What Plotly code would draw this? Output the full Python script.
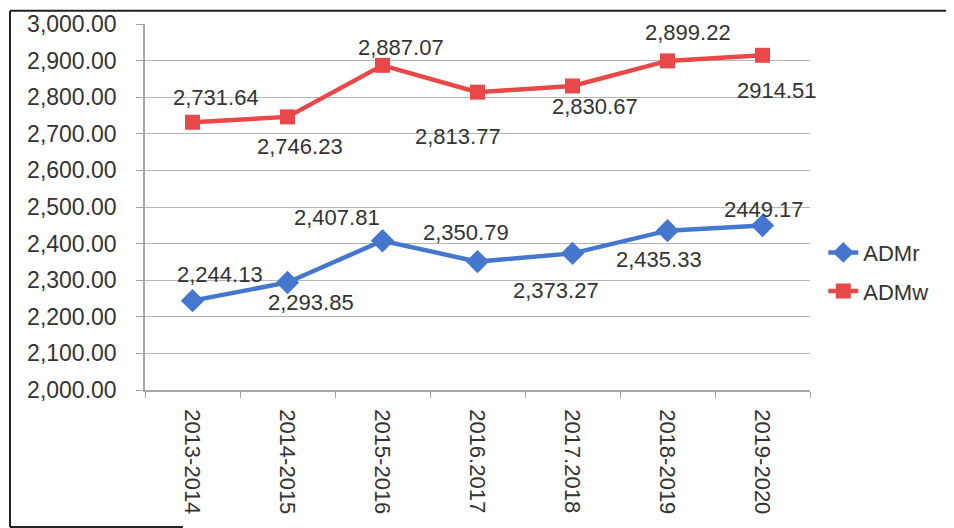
import plotly.graph_objects as go

categories = ["2013-2014", "2014-2015", "2015-2016", "2016.2017", "2017.2018", "2018-2019", "2019-2020"]
admr_values = [2244.13, 2293.85, 2407.81, 2350.79, 2373.27, 2435.33, 2449.17]
admw_values = [2731.64, 2746.23, 2887.07, 2813.77, 2830.67, 2899.22, 2914.51]
admr_labels = ["2,244.13", "2,293.85", "2,407.81", "2,350.79", "2,373.27", "2,435.33", "2449.17"]
admw_labels = ["2,731.64", "2,746.23", "2,887.07", "2,813.77", "2,830.67", "2,899.22", "2914.51"]
y_ticks = [2000, 2100, 2200, 2300, 2400, 2500, 2600, 2700, 2800, 2900, 3000]

# label offsets (style only, px)
admr_shift = [(27, 26), (23, -20), (-46, 23), (-12, 29), (-17, -37), (-9, -29), (1, 16)]
admw_shift = [(23, 25), (12, -30), (18, 18), (-20, -44), (22, -21), (20, 28), (14, -35)]

FONT = "Liberation Sans"
TXT = "#333333"
BLUE = "#4677CF"
RED = "#E84848"

fig = go.Figure()
fig.add_trace(go.Scatter(
    x=categories, y=admr_values, name="ADMr", mode="lines+markers",
    line=dict(color=BLUE, width=4.5),
    marker=dict(symbol="diamond", size=18, color=BLUE),
    legendgroup="r",
))
fig.add_trace(go.Scatter(
    x=categories, y=admw_values, name="ADMw", mode="lines+markers",
    line=dict(color=RED, width=4.5),
    marker=dict(symbol="square", size=15, color=RED),
    legendgroup="w",
))

annotations = []
for vals, labs, shifts in [(admr_values, admr_labels, admr_shift), (admw_values, admw_labels, admw_shift)]:
    for i, (v, t, (dx, dy)) in enumerate(zip(vals, labs, shifts)):
        annotations.append(dict(
            x=i, y=v, text=t, showarrow=False, xshift=dx, yshift=dy,
            font=dict(family=FONT, size=22, color=TXT),
            xanchor="center", yanchor="middle",
        ))

shapes = [
    dict(type="line", xref="paper", yref="paper", x0=-0.203, x1=-0.203, y0=-0.374, y1=1.036,
         line=dict(color="#222222", width=2)),
    dict(type="line", xref="paper", yref="paper", x0=-0.203, x1=1.25, y0=1.036, y1=1.036,
         line=dict(color="#222222", width=2)),
    dict(type="line", xref="paper", yref="paper", x0=-0.203, x1=0.057, y0=-0.374, y1=-0.374,
         line=dict(color="#222222", width=2)),
]

fig.update_layout(
    width=954, height=528,
    margin=dict(l=137, r=152, t=16, b=146),
    paper_bgcolor="white", plot_bgcolor="white",
    font=dict(family=FONT, size=21, color=TXT),
    showlegend=True,
    legend=dict(x=1.02, y=0.322, xanchor="left", yanchor="middle",
                font=dict(family=FONT, size=22, color=TXT),
                tracegroupgap=7, bgcolor="rgba(0,0,0,0)"),
    annotations=annotations,
    shapes=shapes,
)
fig.update_xaxes(
    type="category", range=[-0.5, 6.5], tickangle=90, automargin=False,
    showline=True, linecolor="#a6a6a6", linewidth=1.5,
    ticks="outside", ticklen=6, tickcolor="#a6a6a6", tickson="boundaries",
    showgrid=False, tickfont=dict(family=FONT, size=22, color=TXT),
    ticklabelstandoff=13,
)
fig.update_yaxes(
    range=[2000, 3000], tickvals=y_ticks, tickformat=",.2f", automargin=False,
    showline=True, linecolor="#a6a6a6", linewidth=1.5,
    ticks="outside", ticklen=7, tickcolor="#a6a6a6",
    showgrid=True, gridcolor="#b5b5b5", gridwidth=1.2,
    tickfont=dict(family=FONT, size=23, color=TXT),
    ticklabelstandoff=15, zeroline=False,
)

fig.write_html("out.html")
